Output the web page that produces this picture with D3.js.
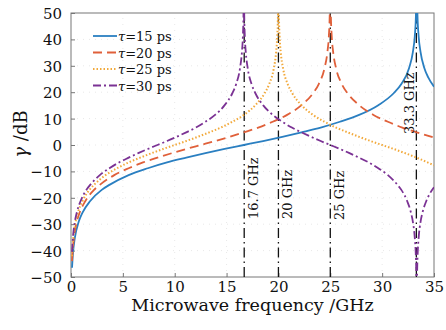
<!DOCTYPE html>
<head>
  <meta charset="utf-8">
  <script src="https://cdnjs.cloudflare.com/ajax/libs/d3/7.8.5/d3.min.js"></script>
  <style>
    body { margin:0; background:#fff; }
    #vis { width: 446px; height: 330px; }
    text { font-family: "DejaVu Serif", "Liberation Serif", serif; fill:#111; }
  </style>
</head>

<body>
  <div id="vis"></div>

  <script>
    // gain curves, [frequency GHz, gamma dB]
    var tau15 = [[0.1,-46.5],[0.185,-41.2],[0.37,-35.2],[0.741,-29.1],[1.111,-25.6],[1.852,-21.2],[2.963,-17.0],
      [3.704,-15.1],[5.556,-11.4],[7.407,-8.8],[9.259,-6.6],[11.111,-4.8],[12.963,-3.1],[14.815,-1.5],[16.667,0],
      [18.519,1.5],[20.37,3.1],[22.222,4.8],[24.074,6.6],[25.926,8.8],[27.778,11.4],[29.63,15.1],[31.111,19.6],
      [31.852,23.1],[32.593,29.1],[32.963,35.2],[33.148,41.2],[33.259,49.1],[33.296,55.2],[33.37,55.2],
      [33.407,49.1],[33.519,41.2],[33.704,35.2],[34.074,29.1],[34.444,25.6],[35,22.1]];
    var tau20 = [[0.1,-44.0],[0.139,-41.2],[0.278,-35.2],[0.556,-29.1],[0.833,-25.6],[1.389,-21.2],[2.222,-17.0],
      [2.778,-15.1],[4.167,-11.4],[5.556,-8.8],[6.944,-6.6],[8.333,-4.8],[9.722,-3.1],[11.111,-1.5],[12.5,0],
      [13.889,1.5],[15.278,3.1],[16.667,4.8],[18.056,6.6],[19.444,8.8],[20.833,11.4],[22.222,15.1],[23.333,19.6],
      [23.889,23.1],[24.444,29.1],[24.722,35.2],[24.861,41.2],[24.944,49.1],[24.972,55.2],[25.028,55.2],
      [25.056,49.1],[25.139,41.2],[25.278,35.2],[25.556,29.1],[26.111,23.1],[26.667,19.6],[27.778,15.1],
      [29.167,11.4],[30.556,8.8],[31.944,6.6],[33.333,4.8],[35,2.8]];
    var tau25 = [[0.1,-42.1],[0.222,-35.2],[0.444,-29.1],[0.667,-25.6],[1.111,-21.2],[1.778,-17.0],[2.222,-15.1],
      [3.333,-11.4],[4.444,-8.8],[5.556,-6.6],[6.667,-4.8],[7.778,-3.1],[8.889,-1.5],[10,0],[11.111,1.5],
      [12.222,3.1],[13.333,4.8],[14.444,6.6],[15.556,8.8],[16.667,11.4],[17.778,15.1],[18.667,19.6],[19.111,23.1],
      [19.556,29.1],[19.778,35.2],[19.889,41.2],[19.956,49.1],[19.978,55.2],[20.022,55.2],[20.044,49.1],
      [20.111,41.2],[20.222,35.2],[20.444,29.1],[20.889,23.1],[21.333,19.6],[22.222,15.1],[23.333,11.4],
      [24.444,8.8],[25.556,6.6],[26.667,4.8],[27.778,3.1],[28.889,1.5],[30,0],[31.111,-1.5],[32.222,-3.1],
      [33.333,-4.8],[35,-7.7]];
    var tau30 = [[0.1,-40.5],[0.185,-35.2],[0.37,-29.1],[0.556,-25.6],[0.926,-21.2],[1.481,-17.0],[1.852,-15.1],
      [2.778,-11.4],[3.704,-8.8],[4.63,-6.6],[5.556,-4.8],[6.481,-3.1],[7.407,-1.5],[8.333,0],[9.259,1.5],
      [10.185,3.1],[11.111,4.8],[12.037,6.6],[12.963,8.8],[13.889,11.4],[14.815,15.1],[15.556,19.6],[15.926,23.1],
      [16.296,29.1],[16.481,35.2],[16.574,41.2],[16.63,49.1],[16.648,55.2],[16.685,55.2],[16.704,49.1],
      [16.759,41.2],[16.852,35.2],[17.037,29.1],[17.407,23.1],[17.778,19.6],[18.519,15.1],[19.444,11.4],
      [20.37,8.8],[21.296,6.6],[22.222,4.8],[23.148,3.1],[24.074,1.5],[25,0],[25.926,-1.5],[26.852,-3.1],
      [27.778,-4.8],[28.704,-6.6],[29.63,-8.8],[30.556,-11.4],[31.481,-15.1],[31.852,-17.0],[32.407,-21.2],
      [32.778,-25.6],[32.963,-29.1],[33.148,-35.2],[33.241,-41.2],[33.296,-49.1],[33.315,-55.2],[33.352,-55.2],
      [33.37,-49.1],[33.426,-41.2],[33.519,-35.2],[33.704,-29.1],[33.889,-25.6],[34.259,-21.2],[34.63,-18.2],
      [35,-16.0]];

    var seriesNames = ["\u03c4=15 ps", "\u03c4=20 ps", "\u03c4=25 ps", "\u03c4=30 ps"];
    var markerFreqs = [16.7, 20, 25, 33.3];
    var markerLabels = ["16.7 GHz", "20 GHz", "25 GHz", "33.3 GHz"];
    var xTicks = [0, 5, 10, 15, 20, 25, 30, 35];
    var yTicks = [-50, -40, -30, -20, -10, 0, 10, 20, 30, 40, 50];

    var colors = ["#2a7fc1", "#e0603a", "#f2a93b", "#7b3294"];
    var dashes = [null, "9,5", "1.5,2", "8,3,2,3"];

    var width = 446, height = 330;
    var m = {left: 71, right: 12, top: 13, bottom: 53};

    var svg = d3.select("#vis").append("svg")
      .attr("width", width)
      .attr("height", height);

    var x = d3.scaleLinear().domain([0, 35]).range([m.left, width - m.right]);
    var y = d3.scaleLinear().domain([-50, 50]).range([height - m.bottom, m.top]);

    svg.append("clipPath").attr("id", "clip")
      .append("rect")
      .attr("x", m.left).attr("y", m.top)
      .attr("width", x(35) - m.left).attr("height", y(-50) - m.top);

    // faint grid
    var grid = svg.append("g");
    xTicks.slice(1, -1).forEach(function(t) {
      grid.append("line").attr("x1", x(t)).attr("x2", x(t)).attr("y1", y(-50)).attr("y2", y(50))
        .style("stroke", "#e8e8e8").style("stroke-dasharray", "1,5");
    });
    yTicks.slice(1, -1).forEach(function(t) {
      grid.append("line").attr("x1", x(0)).attr("x2", x(35)).attr("y1", y(t)).attr("y2", y(t))
        .style("stroke", "#e8e8e8").style("stroke-dasharray", "1,5");
    });

    // axes
    var fmt = function(d) { return d < 0 ? "\u2212" + Math.abs(d) : d; };
    var xAxis = svg.append("g").attr("transform", "translate(0," + y(-50) + ")")
      .call(d3.axisBottom(x).tickValues(xTicks).tickSizeInner(-4).tickSizeOuter(0).tickPadding(6));
    var yAxis = svg.append("g").attr("transform", "translate(" + x(0) + ",0)")
      .call(d3.axisLeft(y).tickValues(yTicks).tickFormat(fmt).tickSizeInner(-4).tickSizeOuter(0).tickPadding(9));
    [xAxis, yAxis].forEach(function(a) {
      a.select(".domain").remove();
      a.selectAll("line").style("stroke", "#777");
      a.selectAll("text").style("font-size", "15px")
        .style("font-family", '"DejaVu Serif","Liberation Serif",serif').style("fill", "#111");
    });
    xAxis.selectAll("text").attr("dy", "0.6em");
    yAxis.selectAll("text").attr("dy", "0.36em");

    svg.append("rect")
      .attr("x", x(0)).attr("y", y(50))
      .attr("width", x(35) - x(0)).attr("height", y(-50) - y(50))
      .style("fill", "none").style("stroke", "#777").style("stroke-width", 1);

    // vertical markers
    var plot = svg.append("g").attr("clip-path", "url(#clip)");
    markerFreqs.forEach(function(f, i) {
      plot.append("line")
        .attr("x1", x(f)).attr("x2", x(f)).attr("y1", y(-50)).attr("y2", y(50))
        .style("stroke", "#111").style("stroke-width", 1.3)
        .style("stroke-dasharray", "10,4,1.5,4");
    });

    var line = d3.line()
      .x(function(d) { return x(d[0]); })
      .y(function(d) { return y(d[1]); })
      .curve(d3.curveMonotoneX);

    [tau15, tau20, tau25, tau30].forEach(function(s, i) {
      plot.append("path")
        .attr("d", line(s))
        .style("fill", "none")
        .style("stroke", colors[i])
        .style("stroke-width", i == 2 ? 2 : 1.8)
        .style("stroke-dasharray", dashes[i]);
    });

    // marker labels
    var labelPos = [[x(16.7) + 14, 219], [x(20) + 14, 219], [x(25) + 14, 220], [x(33.3) - 2, 134]];
    markerLabels.forEach(function(t, i) {
      svg.append("text")
        .attr("transform", "translate(" + labelPos[i][0] + "," + labelPos[i][1] + ") rotate(-90)")
        .style("font-size", "13px")
        .text(t);
    });

    // legend
    var leg = svg.append("g");
    seriesNames.forEach(function(n, i) {
      var ly = 36 + i * 16.5;
      leg.append("line")
        .attr("x1", 93).attr("x2", 117).attr("y1", ly).attr("y2", ly)
        .style("stroke", colors[i]).style("stroke-width", i == 2 ? 2 : 1.8)
        .style("stroke-dasharray", dashes[i]);
      var tx = leg.append("text").attr("x", 118).attr("y", ly + 5).style("font-size", "13px");
      tx.append("tspan").style("font-style", "italic").text("\u03c4");
      tx.append("tspan").text(n.slice(1));
    });

    // axis titles
    svg.append("text")
      .attr("x", (x(0) + x(35)) / 2).attr("y", 311)
      .attr("text-anchor", "middle")
      .style("font-size", "17.5px")
      .text("Microwave frequency /GHz");

    var yl = svg.append("text")
      .attr("transform", "translate(27,134) rotate(-90)")
      .attr("text-anchor", "middle")
      .style("font-size", "18px");
    yl.append("tspan").style("font-style", "italic").text("\u03b3");
    yl.append("tspan").text(" /dB");
  </script>
</body>
